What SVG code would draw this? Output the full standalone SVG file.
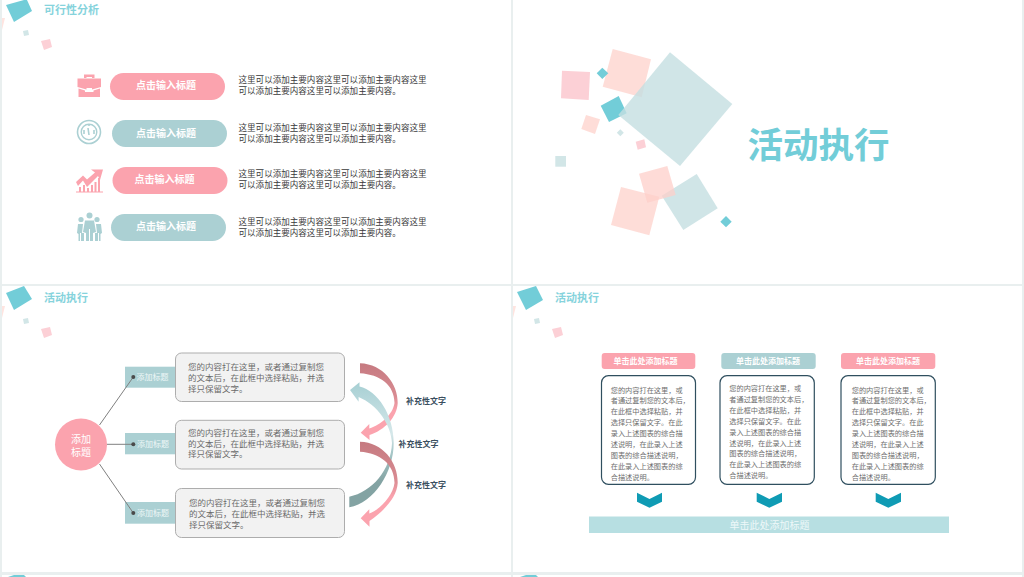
<svg xmlns="http://www.w3.org/2000/svg" width="1024" height="577" viewBox="0 0 1024 577">
<style>
text{font-family:"Noto Sans CJK SC","Liberation Sans",sans-serif}
.ttl{font-size:11px;font-weight:700;fill:#86d3dc}
.pt{font-size:10px;font-weight:700;fill:#fff;text-anchor:middle}
.body{font-size:8.55px;fill:#3a3a3a}
.gt{font-size:8.5px;fill:#6a6a6a}
.tag{font-size:8px;fill:#eef7f7}
.side{font-size:8px;font-weight:700;fill:#3a4f5f}
.hd{font-size:8px;font-weight:700;fill:#fff;text-anchor:middle}
.ct{font-size:7.2px;fill:#6e6e6e}
.box{fill:#f2f2f2;stroke:#adadad;stroke-width:1}
.card{fill:#fff;stroke:#2f4f5f;stroke-width:1.2}
.pink{fill:#fba3ae}
.teal{fill:#abd0d3}
.tq{fill:#72cdd8}
.pale{fill:#d2e6e7}
.rose{fill:#fcd0d6}
.peach{fill:#fedad5;opacity:.92}
.chev{fill:#0f9bb4}
.ln{stroke:#808080;stroke-width:1;fill:none}
.dot{fill:#4a4a4a}
</style>
<defs>
<linearGradient id="gr1" gradientUnits="userSpaceOnUse" x1="0" y1="363" x2="0" y2="430"><stop offset="0" stop-color="#c57a80"/><stop offset=".5" stop-color="#d98b92"/><stop offset=".72" stop-color="#fba3ae"/></linearGradient>
<linearGradient id="gr2" gradientUnits="userSpaceOnUse" x1="0" y1="442" x2="0" y2="518"><stop offset="0" stop-color="#c57a80"/><stop offset=".5" stop-color="#d98b92"/><stop offset=".72" stop-color="#fba3ae"/></linearGradient>
<linearGradient id="gt" gradientUnits="userSpaceOnUse" x1="0" y1="382" x2="0" y2="507"><stop offset="0" stop-color="#a6cfd3"/><stop offset=".42" stop-color="#d6e8ea"/><stop offset=".55" stop-color="#a9c9ca"/><stop offset=".8" stop-color="#83a3a3"/><stop offset="1" stop-color="#83a3a3"/></linearGradient>
</defs>

<rect width="1024" height="577" fill="#e9efef"/>
<g id="slides" fill="#fff">
<rect x="2" y="0" width="509" height="284"/>
<rect x="513" y="0" width="509" height="284"/>
<rect x="2" y="286" width="509" height="286"/>
<rect x="513" y="286" width="509" height="286"/>
<rect x="2" y="575" width="509" height="2"/>
<rect x="513" y="575" width="509" height="2"/>
</g>

<g id="deco1">
<polygon class="tq" points="6,5 24,0 27,0 32,11 14,22"/>
<polygon class="pale" points="23,31 28,30 29,35 24,36"/>
<polygon class="rose" points="41,41 50,39 52,47 44,50"/>
<polygon fill="#fee4e0" points="2,18 5,18 2,30"/>
</g>
<g id="deco3">
<polygon class="tq" points="6,293 24,286 32,299 14,310"/>
<polygon class="pale" points="23,319 28,318 29,323 24,324"/>
<polygon class="rose" points="41,329 50,327 52,335 44,338"/>
<polygon fill="#fee4e0" points="2,306 5,306 2,318"/>
</g>
<g id="deco4">
<polygon class="tq" points="517,292 536,286 543,300 526,310"/>
<polygon class="pale" points="534,319 539,318 540,323 535,324"/>
<polygon class="rose" points="552,329 561,327 563,335 555,338"/>
<polygon fill="#fee4e0" points="513,306 516,306 513,318"/>
</g>
<g id="deco5">
<polygon class="tq" points="8,577 14,575 24,575 26,577"/>
<polygon class="tq" points="520,577 526,575 536,575 538,577"/>
</g>

<g id="slide2-shapes">
<polygon class="peach" points="612.7,49 651,59.3 641.7,97.3 602.7,86.7"/>
<polygon class="rose" points="562,70.7 590,72 588.7,100 561,98.3"/>
<polygon class="tq" points="602.3,67.7 608.3,73.3 602.3,79 596.700,73.300"/>
<polygon class="tq" points="618.7,96 626.7,113.3 609,122 600.7,105.7"/>
<polygon fill="#c4dfe1" opacity=".8" points="670,52.3 732.3,104 680,166 618.3,115"/>
<polygon class="peach" points="586,115 600,119.3 595,134 581.3,129"/>
<polygon class="pale" points="620.3,129.2 623.8,132.7 620.3,136.2 616.8,132.7"/>
<polygon class="rose" points="635.7,141.7 644.3,139.3 646,147.3 637.7,149.7"/>
<rect class="pale" x="555.3" y="156" width="10.7" height="10.7"/>
<polygon class="peach" points="621,187 659.3,196.7 649.3,235.3 611,225"/>
<polygon fill="#c4dfe1" opacity=".8" points="661.7,195.7 696.7,174 717.7,208.3 683.3,230"/>
<polygon fill="#fdcfc9" opacity=".75" points="639,173.7 667.3,166 675.7,195 647.3,202.7"/>
<polygon class="tq" points="726,216 731.7,221.7 726,227.3 720.3,221.7"/>
<text x="747.500" y="158" font-size="35.500" font-weight="700" fill="#72cdd8">活动执行</text>
</g>

<g id="slide1-title"><text class="ttl" x="44" y="14">可行性分析</text></g>

<g id="icon-briefcase">
<path class="pink" d="M84,78V74.500H94.500V78H92V77H86.500V78Z"/>
<path class="pink" d="M77.500,78.500H101V87L92,89.500V88H86.500V89.500L77.500,87Z"/>
<path class="pink" d="M78.500,88.500L85,90.500V92H93.500V90.500L100,88.500V97H78.500Z"/>
</g>
<g id="icon-gauge" fill="none" stroke="#abd0d3">
<circle cx="89" cy="132" r="11.500" stroke-width="1.600"/>
<circle cx="89" cy="132" r="7.800" stroke-width="1.400"/>
<path d="M89,135L88,128M84,130v4M94,130v4M89,125v1" stroke-width="1.600"/>
</g>
<g id="icon-chart">
<path class="pink" d="M76,182L83,175.500L87,179.500L95,172.500L91,169.500L103,169.500L100,180L98,176L87,187L83,180.500L78,186Z"/>
<path class="pink" d="M79,187h2v5h-2zM83,185h2v7h-2zM87,188h2v4h-2zM91,185h2v7h-2zM94.500,182h2v10h-2zM98,178h2v14h-2zM76,191.500h27v1h-27z"/>
</g>
<g id="icon-people">
<circle class="teal" cx="89.500" cy="215.500" r="3"/>
<circle class="teal" cx="81" cy="219.500" r="2.600"/>
<circle class="teal" cx="97" cy="219.500" r="2.600"/>
<path class="teal" d="M85,220.500H94L96,232L93,233V241H90V229H89V241H86V233L83,232Z"/>
<path class="teal" d="M77,233L78,224H83L82,233L84,233V241H81V233H80V241H78.500V234Z"/>
<path class="teal" d="M102,233L101,224H96L97,233L95,233V241H98V233H99V241H100.500V234Z"/>
</g>

<g id="row1"><rect class="pink" x="110" y="73" width="115" height="27" rx="13.500"/><text class="pt" x="166" y="88.500">点击输入标题</text>
<text class="body"><tspan x="238.500" y="83.300">这里可以添加主要内容这里可以添加主要内容这里</tspan><tspan x="238.500" y="94">可以添加主要内容这里可以添加主要内容。</tspan></text></g>
<g id="row2"><rect class="teal" x="112" y="120" width="115" height="27" rx="13.500"/><text class="pt" x="166" y="136.500">点击输入标题</text>
<text class="body"><tspan x="238.500" y="131">这里可以添加主要内容这里可以添加主要内容这里</tspan><tspan x="238.500" y="141.500">可以添加主要内容这里可以添加主要内容。</tspan></text></g>
<g id="row3"><rect class="pink" x="112.500" y="167" width="115" height="27" rx="13.500"/><text class="pt" x="164.500" y="183">点击输入标题</text>
<text class="body"><tspan x="238.500" y="177">这里可以添加主要内容这里可以添加主要内容这里</tspan><tspan x="238.500" y="187.500">可以添加主要内容这里可以添加主要内容。</tspan></text></g>
<g id="row4"><rect class="teal" x="111" y="214" width="115" height="27" rx="13.500"/><text class="pt" x="166" y="230">点击输入标题</text>
<text class="body"><tspan x="238.500" y="225">这里可以添加主要内容这里可以添加主要内容这里</tspan><tspan x="238.500" y="235.500">可以添加主要内容这里可以添加主要内容。</tspan></text></g>

<g id="slide3-title"><text class="ttl" x="44" y="302">活动执行</text></g>
<g id="slide4-title"><text class="ttl" x="555" y="302">活动执行</text></g>

<g id="tag1"><rect class="teal" x="125" y="366.700" width="50" height="21"/><text class="tag" x="136.500" y="380">添加标题</text></g>
<g id="tag2"><rect class="teal" x="125" y="433" width="50" height="21.300"/><text class="tag" x="137" y="447">添加标题</text></g>
<g id="tag3"><rect class="teal" x="125" y="502" width="50" height="21.700"/><text class="tag" x="137" y="515.500">添加标题</text></g>

<g id="connectors">
<path class="ln" d="M99.500,425L133.300,377"/>
<path class="ln" d="M107,444.300H133.300"/>
<path class="ln" d="M99.500,464L133.300,513"/>
<circle class="dot" cx="133.300" cy="377" r="2"/>
<circle class="dot" cx="133.300" cy="444.300" r="2"/>
<circle class="dot" cx="133.300" cy="513" r="2"/>
</g>

<g id="hub"><circle class="pink" cx="81" cy="444.500" r="26"/>
<text font-size="10" fill="#fff" text-anchor="middle"><tspan x="81" y="442.500">添加</tspan><tspan x="81" y="455.500">标题</tspan></text></g>

<g id="box1"><rect class="box" x="175.500" y="353" width="169" height="48.500" rx="6"/>
<text class="gt"><tspan x="188" y="370">您的内容打在这里，或者通过复制您</tspan><tspan x="188" y="380.500">的文本后，在此框中选择粘贴，并选</tspan><tspan x="188" y="391.500">择只保留文字。</tspan></text></g>
<g id="box2"><rect class="box" x="175.500" y="420.300" width="169" height="48.700" rx="6"/>
<text class="gt"><tspan x="188" y="435.500">您的内容打在这里，或者通过复制您</tspan><tspan x="188" y="446.500">的文本后，在此框中选择粘贴，并选</tspan><tspan x="188" y="457">择只保留文字。</tspan></text></g>
<g id="box3"><rect class="box" x="175.500" y="488.500" width="169" height="49" rx="6"/>
<text class="gt"><tspan x="189" y="506">您的内容打在这里，或者通过复制您</tspan><tspan x="189" y="517">的文本后，在此框中选择粘贴，并选</tspan><tspan x="189" y="527.500">择只保留文字。</tspan></text></g>

<g id="arcs">
<path fill="url(#gr1)" d="M360,363.300C383,364 398,384 397.700,403C397,417 385,430 369.500,435V440L360.700,432.700L369.300,424V428.500C381,425 393,414 394.500,403C394.500,385 380,374.500 360,373.300Z"/>
<path fill="url(#gt)" d="M350,390L359.500,382.300V386.500C378,391 393.500,415 393.700,443C393.700,472 374,503 349.300,507.300V496.700C372,492 391,470 392,443C391,425 378,405 358.600,397V401.700Z"/>
<path fill="url(#gr2)" d="M360,441.700C383,442.500 398,462 397.700,483C397,497 385,510 369.500,521V526.700L360.700,518.300L369.300,509.300V513.500C381,509 393,495 394.500,483C394.500,464 380,453 360,451.700Z"/>
</g>

<g id="side1"><text class="side" x="406" y="404">补充性文字</text></g>
<g id="side2"><text class="side" x="398.500" y="446.500">补充性文字</text></g>
<g id="side3"><text class="side" x="406" y="488">补充性文字</text></g>

<g id="col1">
<rect class="pink" x="601.700" y="353" width="93.600" height="16" rx="3"/><text class="hd" x="645.500" y="363.800">单击此处添加标题</text>
<rect class="card" x="601.500" y="375.700" width="94" height="108.600" rx="7"/>
<text class="ct"><tspan x="610.700" y="392.500">您的内容打在这里，或</tspan><tspan x="610.700" y="403.300">者通过复制您的文本后，</tspan><tspan x="610.700" y="414">在此框中选择粘贴，并</tspan><tspan x="610.700" y="425">选择只保留文字。在此</tspan><tspan x="610.700" y="435.800">录入上述图表的综合描</tspan><tspan x="610.700" y="446.800">述说明，在此录入上述</tspan><tspan x="610.700" y="457.700">图表的综合描述说明，</tspan><tspan x="610.700" y="468.500">在此录入上述图表的综</tspan><tspan x="610.700" y="479.500">合描述说明。</tspan></text>
<polygon class="chev" points="637,492.700 649.500,499 662,492.700 662,501.700 649.500,507.700 637,501.700"/>
</g>
<g id="col2">
<rect class="teal" x="721.300" y="353" width="94.400" height="16" rx="3"/><text class="hd" x="768" y="363.800">单击此处添加标题</text>
<rect class="card" x="720" y="375.700" width="94.300" height="108.600" rx="7"/>
<text class="ct"><tspan x="729.300" y="391">您的内容打在这里，或</tspan><tspan x="729.300" y="402">者通过复制您的文本后，</tspan><tspan x="729.300" y="413">在此框中选择粘贴，并</tspan><tspan x="729.300" y="424">选择只保留文字。在此</tspan><tspan x="729.300" y="435">录入上述图表的综合描</tspan><tspan x="729.300" y="445.500">述说明，在此录入上述</tspan><tspan x="729.300" y="456">图表的综合描述说明，</tspan><tspan x="729.300" y="467">在此录入上述图表的综</tspan><tspan x="729.300" y="478">合描述说明。</tspan></text>
<polygon class="chev" points="756.700,492.700 769.300,499 782,492.700 782,501.700 769.300,507.700 756.700,501.700"/>
</g>
<g id="col3">
<rect class="pink" x="841" y="353" width="94.300" height="16" rx="3"/><text class="hd" x="888" y="363.800">单击此处添加标题</text>
<rect class="card" x="841" y="375.700" width="94.300" height="108.600" rx="7"/>
<text class="ct"><tspan x="851.700" y="392.500">您的内容打在这里，或</tspan><tspan x="851.700" y="403.300">者通过复制您的文本后，</tspan><tspan x="851.700" y="414">在此框中选择粘贴，并</tspan><tspan x="851.700" y="425">选择只保留文字。在此</tspan><tspan x="851.700" y="435.800">录入上述图表的综合描</tspan><tspan x="851.700" y="446.800">述说明，在此录入上述</tspan><tspan x="851.700" y="457.700">图表的综合描述说明，</tspan><tspan x="851.700" y="468.500">在此录入上述图表的综</tspan><tspan x="851.700" y="479.500">合描述说明。</tspan></text>
<polygon class="chev" points="875.700,492.700 888.300,499 901,492.700 901,501.700 888.300,507.700 875.700,501.700"/>
</g>
<g id="bar"><rect x="589" y="516.500" width="360" height="16.500" fill="#b7dfe2"/><text x="769.500" y="528.500" font-size="10" fill="#eef8f9" text-anchor="middle">单击此处添加标题</text></g>
</svg>
